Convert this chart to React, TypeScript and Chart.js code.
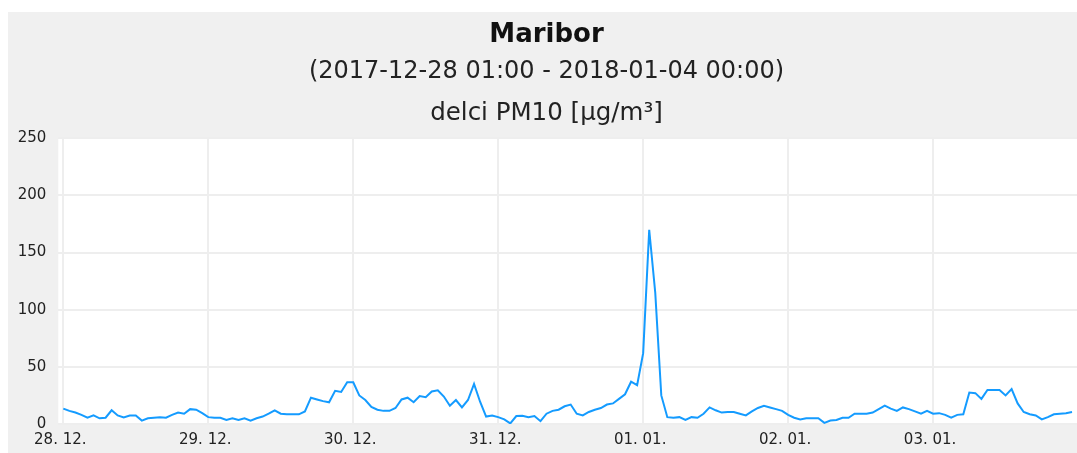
import React, { useEffect, useRef } from "react";
import { Chart, registerables } from "chart.js";

Chart.register(...registerables);

const TITLE = "Maribor";
const SUBTITLE = "(2017-12-28 01:00 - 2018-01-04 00:00)";
const UNIT_LABEL = "delci PM10 [µg/m³]";

const dayLabels = ["28. 12.", "29. 12.", "30. 12.", "31. 12.", "01. 01.", "02. 01.", "03. 01."];
const dayTickHours = [0, 24, 48, 72, 96, 120, 144];
const yTickValues = [0, 50, 100, 150, 200, 250];

// hourly PM10 values, starting at the 28.12. tick
const pm10Values = [
  13.5, 11.5, 10, 8, 5.5, 7.5, 5, 5.5, 12, 7.5,
  5.8, 7.5, 7.5, 3, 5, 5.5, 6, 5.5, 8, 10,
  9, 13, 12.5, 9.5, 6, 5.5, 5.5, 3.5, 5, 3.5,
  5, 3, 5, 6.5, 9, 12, 9, 8.5, 8.5, 8.5,
  11, 23, 21.5, 20, 19, 29, 28, 36.5, 36.5, 25,
  21, 15, 12.5, 11.5, 11.5, 14, 21.5, 23, 19, 24.5,
  23.5, 28.5, 29.5, 24, 16, 21, 14.5, 21, 35, 19.5,
  6.5, 7.5, 6, 4, 0.5, 7, 7.3, 6, 7, 2.5,
  9, 11.5, 12.5, 15.5, 17, 9, 7.5, 10.5, 12.5, 14,
  17, 18, 22, 26, 37, 34, 62, 170, 115, 25,
  6, 5.5, 6, 3.5, 6, 5.5, 9, 14.5, 12, 10,
  10.5, 10.5, 9, 7.5, 11, 14, 16, 14.5, 13, 11.5,
  8, 5.5, 4, 5, 5, 5, 1, 3, 3.5, 5.5,
  5.5, 9, 9, 9, 10, 13, 16, 13.5, 11.5, 14.5,
  13, 11, 9, 11.5, 9, 9.5, 8, 5.5, 8, 8.5,
  27.5, 27, 22, 29.7, 29.7, 29.7, 25, 30.6, 18, 10.5,
  8.5, 7.5, 4, 6, 8.5, 9, 9.5, 10.5,
];

const FONT = "'DejaVu Sans', sans-serif";

const backgroundPlugin = {
  id: "bgAndTitles",
  beforeDraw(chart: any) {
    const { ctx, chartArea, width, height } = chart;
    ctx.save();
    ctx.fillStyle = "#f0f0f0";
    ctx.fillRect(0, 0, width, height);
    ctx.fillStyle = "#ffffff";
    ctx.fillRect(chartArea.left, chartArea.top, chartArea.right - chartArea.left, chartArea.bottom - chartArea.top);
    ctx.restore();
  },
  afterDraw(chart: any) {
    const { ctx, width } = chart;
    ctx.save();
    ctx.fillStyle = "#111111";
    ctx.textAlign = "center";
    ctx.textBaseline = "middle";
    ctx.font = `bold 26px ${FONT}`;
    ctx.fillText(TITLE, width / 2, 23);
    ctx.fillStyle = "#222222";
    ctx.font = `24px ${FONT}`;
    ctx.fillText(SUBTITLE, width / 2, 59.5);
    ctx.font = `24.5px ${FONT}`;
    ctx.fillText(UNIT_LABEL, width / 2, 102);
    ctx.restore();
  },
};

export default function App() {
  const canvasRef = useRef<HTMLCanvasElement | null>(null);

  useEffect(() => {
    const canvas = canvasRef.current;
    if (!canvas) return;
    const chart = new Chart(canvas, {
      type: "line",
      data: {
        datasets: [
          {
            label: "PM10",
            data: pm10Values.map((v, i) => ({ x: i, y: v })),
            borderColor: "#149bff",
            borderWidth: 2,
            pointRadius: 0,
            tension: 0,
            fill: false,
          },
        ],
      },
      options: {
        animation: false,
        responsive: false,
        devicePixelRatio: 1,
        layout: { padding: { top: 126.3, left: 0, right: 0, bottom: 0 } },
        plugins: {
          legend: { display: false },
          title: { display: false },
          tooltip: { enabled: false },
        },
        scales: {
          x: {
            type: "linear",
            min: -0.83,
            max: 169.15,
            afterBuildTicks: (scale: any) => {
              scale.ticks = dayTickHours.map((v) => ({ value: v }));
            },
            afterFit: (scale: any) => {
              scale.height = 29;
            },
            ticks: {
              autoSkip: false,
              maxRotation: 0,
              minRotation: 0,
              padding: 7,
              labelOffset: -3,
              color: "#222222",
              font: { family: FONT, size: 15 },
              callback: (value: any) => {
                const idx = dayTickHours.indexOf(Number(value));
                return idx >= 0 ? dayLabels[idx] : "";
              },
            },
            grid: { color: "#eeeeee", lineWidth: 2, drawTicks: false },
            border: { display: false },
          },
          y: {
            type: "linear",
            min: 0,
            max: 250,
            afterBuildTicks: (scale: any) => {
              scale.ticks = yTickValues.map((v) => ({ value: v }));
            },
            afterFit: (scale: any) => {
              scale.width = 50.3;
            },
            ticks: {
              padding: 12,
              color: "#222222",
              font: { family: FONT, size: 15 },
            },
            grid: { color: "#eeeeee", lineWidth: 2, drawTicks: false },
            border: { display: false },
          },
        },
      },
      plugins: [backgroundPlugin],
    });
    return () => chart.destroy();
  }, []);

  return (
    <div
      style={{
        position: "fixed",
        left: 8,
        top: 12,
        width: 1069,
        height: 441,
        overflow: "hidden",
      }}
    >
      <canvas ref={canvasRef} width={1077} height={441} style={{ display: "block", width: 1077, height: 441 }} />
    </div>
  );
}
